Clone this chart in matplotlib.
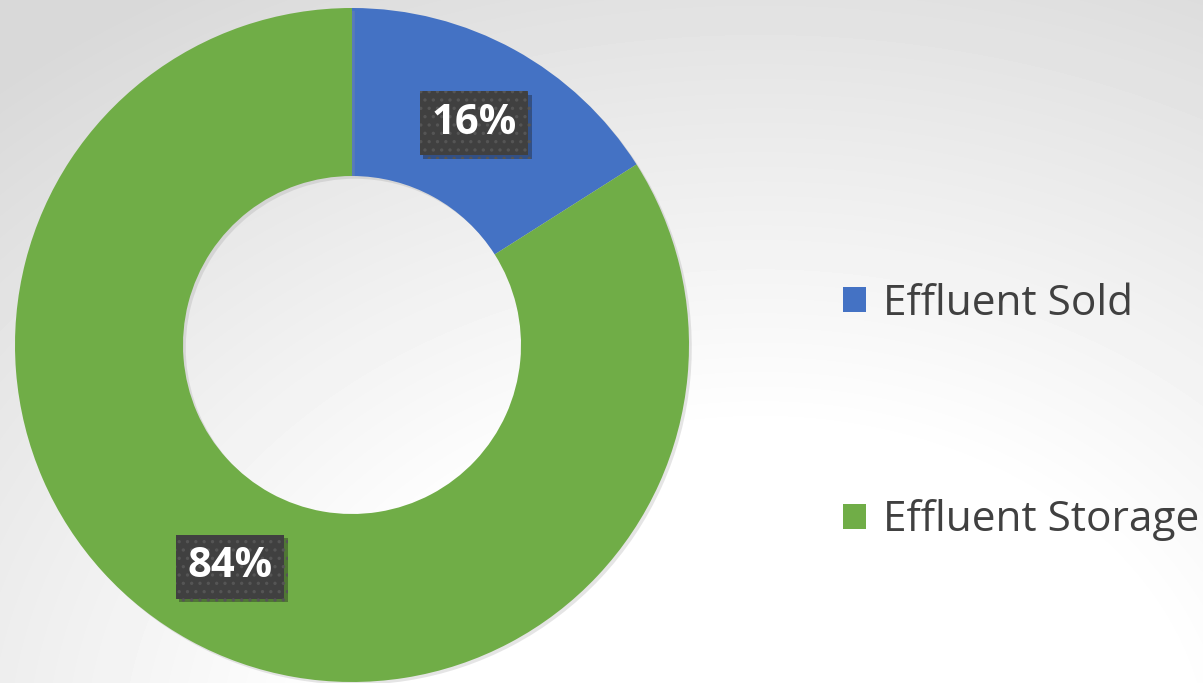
import matplotlib.pyplot as plt
import matplotlib.patheffects as pe
import numpy as np

plt.rcParams['font.family'] = ['Open Sans', 'DejaVu Sans']
plt.rcParams['hatch.linewidth'] = 1.2

labels = ['Effluent Sold', 'Effluent Storage']
values = [16, 84]
colors = ['#4472C4', '#70AD47']

W, H = 1203, 683
fig = plt.figure(figsize=(W / 100, H / 100), dpi=100)

# background gradient (grey top, white lower right)
bg = fig.add_axes([0, 0, 1, 1])
yy, xx = np.mgrid[0:H, 0:W]
d = np.hypot((xx - 760) / 1.3, yy - 760)
g = np.clip(1.0 - (d - 330) / 900 * 0.24, 0.85, 1.0)
bg.imshow(g, cmap='gray', vmin=0, vmax=1, extent=[0, W, H, 0], aspect='auto')
bg.axis('off')

ax = fig.add_axes([0, 0, 1, 1])

cx, cy, r = 352, H - 345, 337
wedges, texts, autotexts = ax.pie(values, colors=colors, startangle=90, counterclock=False,
                                  center=(cx, cy), radius=r, frame=True,
                                  wedgeprops=dict(width=168, linewidth=0),
                                  autopct='%1.0f%%', pctdistance=(1 - 84 / 337))
ax.set_xlim(0, W)
ax.set_ylim(0, H)
ax.set_aspect('equal')
ax.axis('off')
for w in wedges:
    w.set_path_effects([pe.SimplePatchShadow(offset=(2, -2), shadow_rgbFace='#999999', alpha=0.25), pe.Normal()])

for t in autotexts:
    t.set_color('white')
    t.set_fontsize(30)
    t.set_fontweight('bold')
    t.set_bbox(dict(boxstyle='square,pad=0.28', fc='#404040', ec='#555555', lw=0, hatch='..'))
    t.get_bbox_patch().set_path_effects([pe.SimplePatchShadow(offset=(2.5, -2.5), alpha=0.35), pe.Normal()])

leg = ax.legend(wedges, labels, loc='center left', bbox_to_anchor=(843 / W, 1 - 412 / H),
                frameon=False, fontsize=30.5, labelcolor='#404040',
                handlelength=0.54, handleheight=0.54, handletextpad=0.4,
                labelspacing=4.12, borderpad=0, borderaxespad=0)
for h in leg.legend_handles:
    h.set_path_effects([])

fig.savefig('out.png', dpi=100)
